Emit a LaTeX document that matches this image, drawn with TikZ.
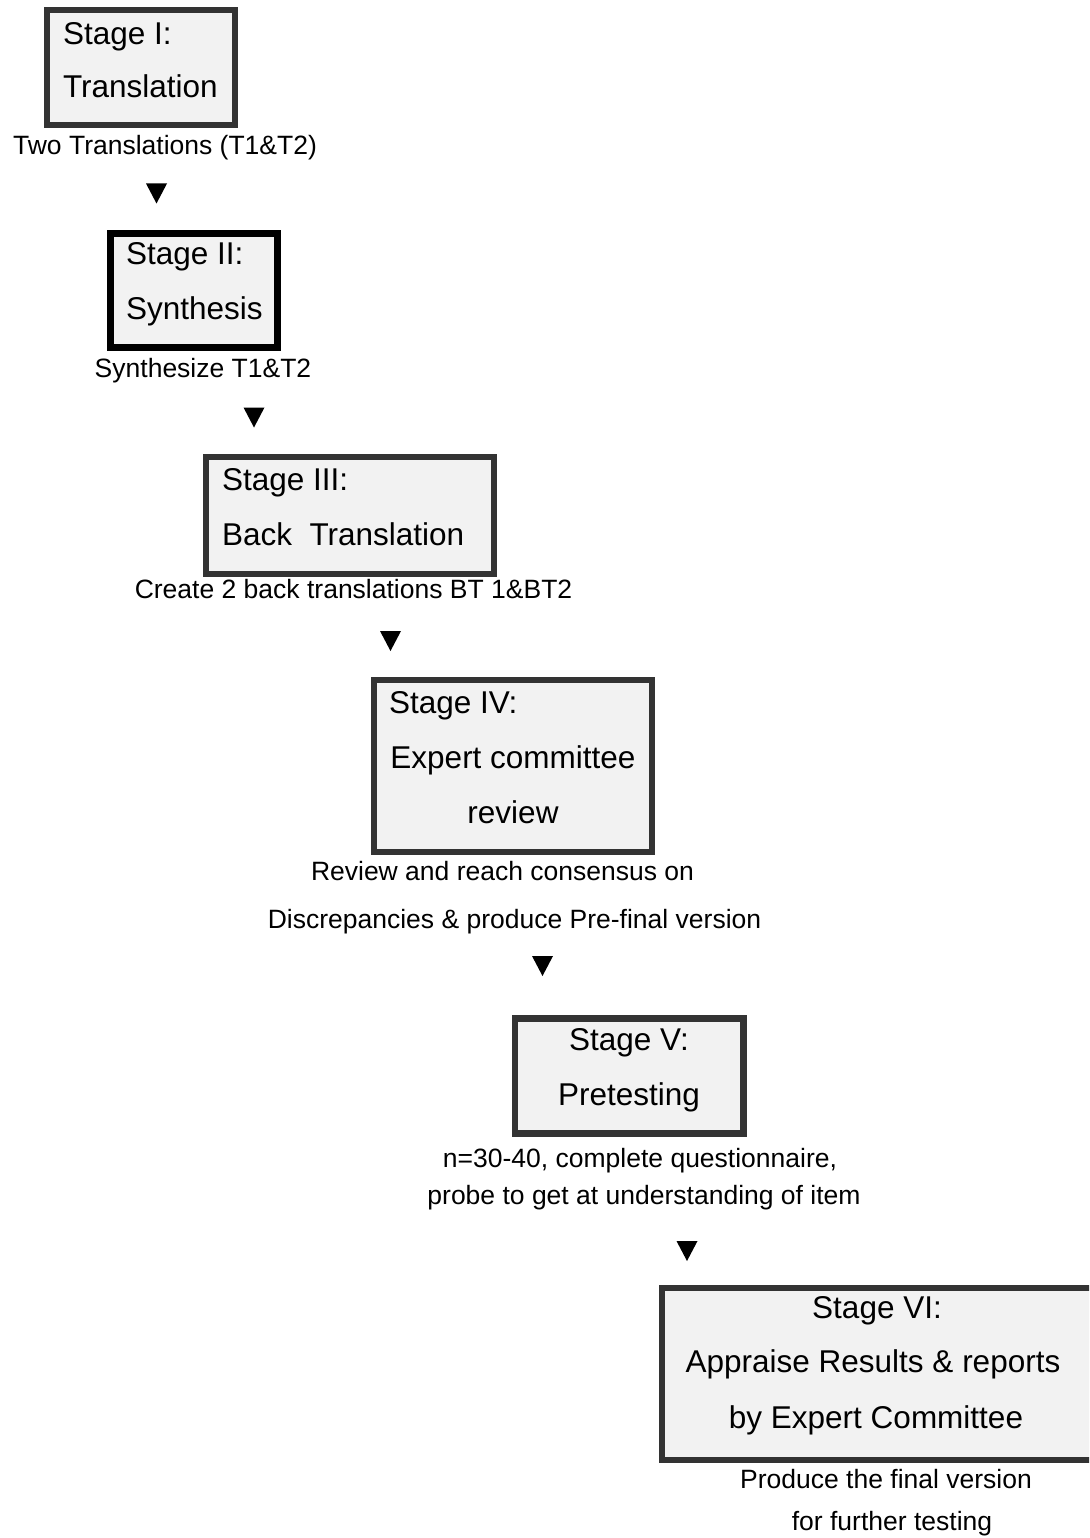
\documentclass[tikz,border=0pt]{standalone}
\usepackage{fontspec}
\setmainfont{Liberation Sans}
\usetikzlibrary{calc}
\definecolor{boxfill}{HTML}{F2F2F2}
\definecolor{boxline}{HTML}{333333}
\tikzset{
  stagebox/.style={draw=boxline, line width=6pt, fill=boxfill, rectangle, inner sep=0pt, outer sep=0pt},
  boxtxt/.style={inner sep=0pt, outer sep=0pt, font=\fontsize{31.5}{38}\selectfont},
  labtxt/.style={inner sep=0pt, outer sep=0pt, font=\fontsize{26.5}{32}\selectfont},
  downtri/.style={fill=black}
}
\newcommand{\downmark}[1]{\fill[downtri] ($(#1)+(-10.5,-10)$) -- ($(#1)+(10.5,-10)$) -- ($(#1)+(0,10)$) -- cycle;}
\begin{document}
\begin{tikzpicture}[x=1pt, y=-1pt]
\useasboundingbox (0,0) rectangle (1089,1538);
\clip (0,0) rectangle (1089,1538);
\fill[white] (0,0) rectangle (1089,1538);

% Stage I
\node[stagebox, minimum width=188pt, minimum height=115pt] (s1) at (141,67.5) {};
\node[boxtxt, anchor=base west] (s1a) at (63,45) {Stage I:};
\node[boxtxt, anchor=base west] (s1b) at (63,98) {Translation};
\node[labtxt, anchor=base] (l1) at (165,155) {Two Translations (T1\&T2)};
\coordinate (t1) at (156.5,193.5);
\downmark{t1}

% Stage II
\node[stagebox, draw=black, line width=7pt, minimum width=167.5pt, minimum height=113.5pt] (s2) at (193.75,290.25) {};
\node[boxtxt, anchor=base west] (s2a) at (126,265) {Stage II:};
\node[boxtxt, anchor=base west] (s2b) at (126,319) {Synthesis};
\node[labtxt, anchor=base] (l2) at (203,377) {Synthesize T1\&T2};
\coordinate (t2) at (254,417.5);
\downmark{t2}

% Stage III
\node[stagebox, minimum width=288pt, minimum height=117pt] (s3) at (350,515.5) {};
\node[boxtxt, anchor=base west] (s3a) at (222,490) {Stage III:};
\node[boxtxt, anchor=base west] (s3b) at (222,545) {Back\ \ Translation};
\node[labtxt, anchor=base] (l3) at (353.5,598) {Create 2 back translations BT 1\&BT2};
\coordinate (t3) at (390.5,641);
\downmark{t3}

% Stage IV
\node[stagebox, minimum width=278pt, minimum height=172pt] (s4) at (513,766) {};
\node[boxtxt, anchor=base west] (s4a) at (389,713) {Stage IV:};
\node[boxtxt, anchor=base] (s4b) at (513,768) {Expert committee};
\node[boxtxt, anchor=base] (s4c) at (513,823) {review};
\node[labtxt, anchor=base] (l4a) at (502.5,880) {Review and reach consensus on};
\node[labtxt, anchor=base] (l4b) at (514.5,928) {Discrepancies \& produce Pre-final version};
\coordinate (t4) at (542.5,966);
\downmark{t4}

% Stage V
\node[stagebox, line width=6.5pt, minimum width=228.5pt, minimum height=115pt] (s5) at (629.25,1076) {};
\node[boxtxt, anchor=base] (s5a) at (629,1050) {Stage V:};
\node[boxtxt, anchor=base] (s5b) at (629,1105) {Pretesting};
\node[labtxt, anchor=base] (l5a) at (640,1167) {n=30-40, complete questionnaire,};
\node[labtxt, anchor=base] (l5b) at (644,1204) {probe to get at understanding of item};
\coordinate (t5) at (687,1251);
\downmark{t5}

% Stage VI (right side runs past the page edge)
\node[stagebox, minimum width=470pt, minimum height=171.5pt] (s6) at (897,1373.75) {};
\node[boxtxt, anchor=base] (s6a) at (877,1318) {Stage VI:};
\node[boxtxt, anchor=base] (s6b) at (873,1372) {Appraise Results \& reports};
\node[boxtxt, anchor=base] (s6c) at (876,1428) {by Expert Committee};
\node[labtxt, anchor=base] (l6a) at (886,1488) {Produce the final version};
\node[labtxt, anchor=base] (l6b) at (892,1530) {for further testing};
\end{tikzpicture}
\end{document}
